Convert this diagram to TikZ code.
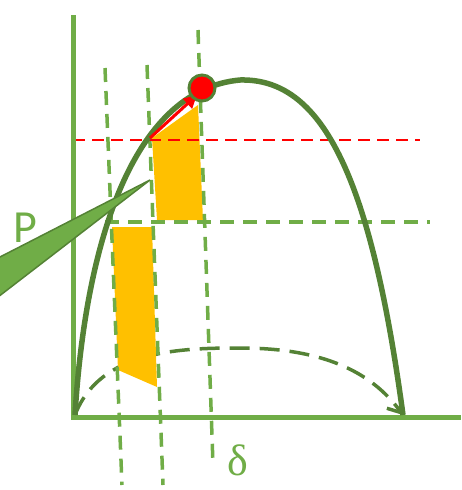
\documentclass[tikz,border=0pt]{standalone}
\usepackage{fontspec}
\newfontfamily\labelfont{Carlito}
\newfontfamily\greekfont{Liberation Serif}
\usetikzlibrary{arrows.meta}
\definecolor{lightgreen}{HTML}{70AD47}
\definecolor{darkgreen}{HTML}{548235}
\definecolor{amber}{HTML}{FFC000}

\begin{document}
\begin{tikzpicture}[x=1pt,y=-1pt,
  axis/.style={lightgreen, line width=5pt},
  curve/.style={darkgreen, line width=5.5pt},
  guide/.style={lightgreen, line width=3.5pt, dash pattern=on 14pt off 9pt},
  level/.style={red, line width=2.2pt, dash pattern=on 12pt off 7pt},
  zone/.style={fill=amber, draw=none},
  lbl/.style={lightgreen, inner sep=0pt}
]
\useasboundingbox (0,0) rectangle (461,490);

% key points
\coordinate (O)     at (75,415);
\coordinate (E)     at (403,415);
\coordinate (top)   at (240,80);
\coordinate (start) at (150,138);
\coordinate (aim)   at (197,95);

% dashed lower curve
\draw[darkgreen, line width=3.5pt, dash pattern=on 20pt off 10pt, -{Straight Barb[length=12pt,width=18pt]}]
  (O) .. controls (100,350) and (180,348) .. (240,348)
      .. controls (320,348) and (370,370) .. (E);

% shaded zones
\fill[zone] (152,138) -- (198,105) -- (203,220) -- (157,220) -- cycle;
\fill[zone] (112,227) -- (152,227) -- (157,387) -- (118,370) -- cycle;

% guides
\draw[guide] (105,68) -- (122,485);
\draw[guide] (147,65) -- (163,485);
\draw[guide] (198,30) -- (213,465);
\draw[guide] (105,222) -- (430,222);
\draw[level] (73,140) -- (420,140);

% axes
\draw[axis] (73,15) -- (73,420);
\draw[axis] (71,417) -- (461,417);

% main curve
\draw[curve] (O) .. controls (85,250) and (130,90) .. (top)
                 .. controls (320,78) and (370,170) .. (E);

% pointer wedge
\filldraw[fill=lightgreen, draw=darkgreen, line width=1.5pt]
  (-2,258) -- (150,180) -- (-2,297) -- cycle;

% move
\draw[red, line width=3pt, -{Triangle[length=13pt,width=13pt]}] (start) -- (aim);
\node[circle, fill=red, draw=darkgreen, line width=3pt, minimum size=26pt, inner sep=0pt] (dot) at (202,88) {};

% labels
\node[lbl, font=\labelfont\fontsize{46}{50}\selectfont] (P) at (25,228) {P};
\node[lbl, font=\greekfont\fontsize{44}{48}\selectfont] (delta) at (238,460) {δ};
\end{tikzpicture}
\end{document}
